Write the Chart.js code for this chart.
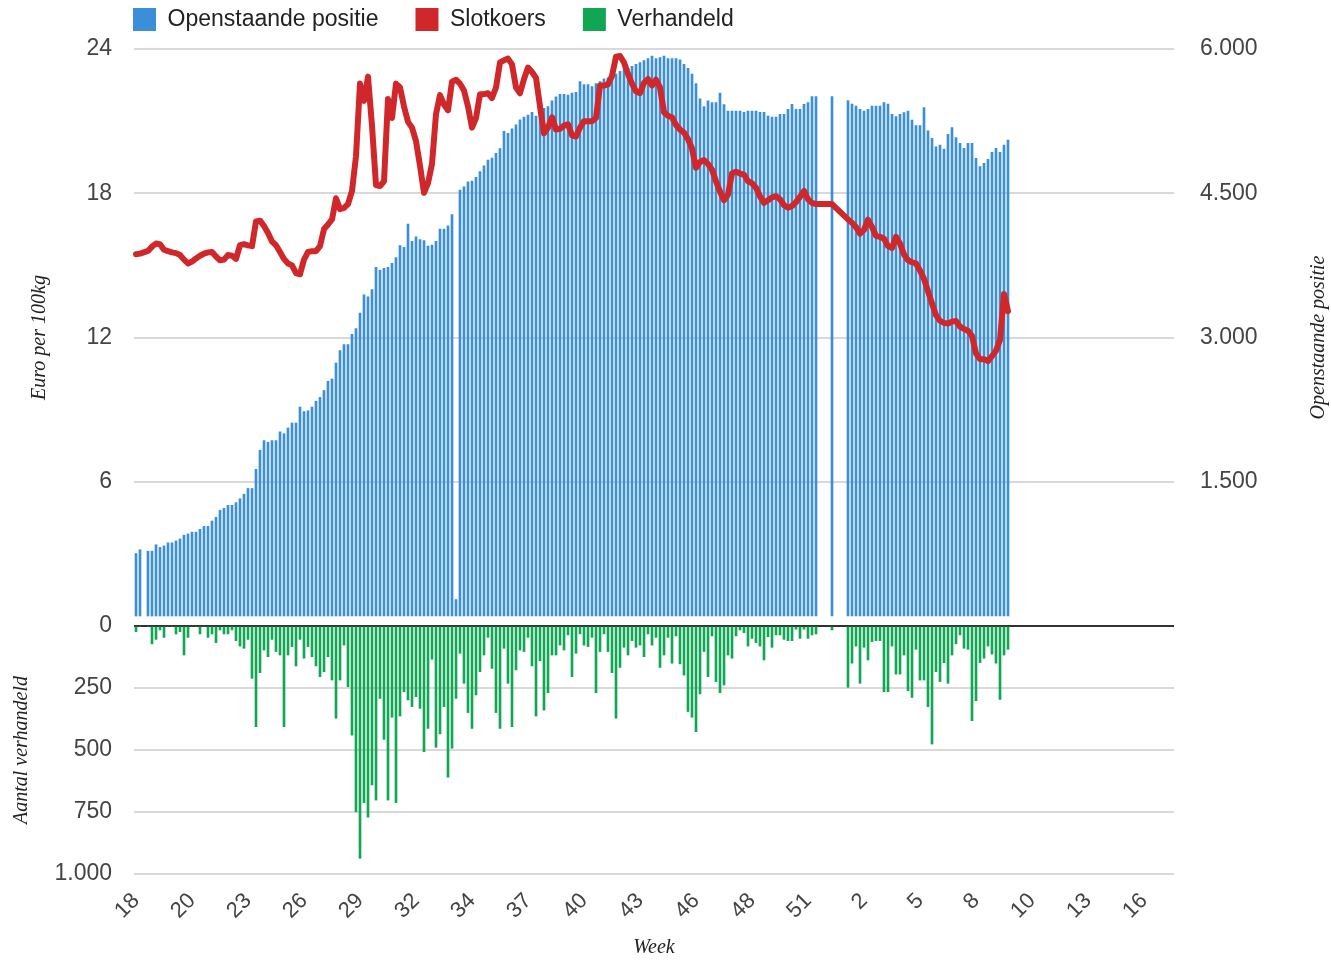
<!DOCTYPE html>
<html>
<head>
<meta charset="utf-8">
<script src="https://cdn.jsdelivr.net/npm/chart.js@4/dist/chart.umd.min.js"></script>
<style>
  html, body { margin: 0; padding: 0; background: #ffffff; }
  #wrap { width: 1331px; height: 960px; position: relative; }
</style>
</head>
<body>
<div id="wrap"><canvas id="c"></canvas></div>
<script>
// ---------- data ----------
const seriesNames = ['Openstaande positie', 'Slotkoers', 'Verhandeld'];
const axisTitles = { price: 'Euro per 100kg', volume: 'Aantal verhandeld', openInterest: 'Openstaande positie', x: 'Week' };
// week labels shown every 14 trading days (260 trading-day slots = one year)
const weekTicks = ['18','20','23','26','29','32','34','37','40','43','46','48','51','2','5','8','10','13','16'];
const TICK_EVERY = 14;
const SLOTS = 260;

// Openstaande positie (right axis), one value per trading day; null = no data
const openInterest = [
  754,793,null,778,778,845,817,833,865,865,
  885,905,944,957,976,976,1005,1036,1036,1092,
  1131,1203,1223,1255,1255,1283,1323,1371,1430,1430,
  1629,1828,1928,1911,1928,1928,2019,2000,2059,2111,
  2111,2277,2230,2238,2277,2338,2377,2449,2545,2569,
  2735,2863,2926,2926,3033,3094,3253,3444,3424,3499,
  3730,3699,3719,3730,3771,3830,3957,3937,4180,4000,
  4048,4017,4009,3950,3961,4000,4128,4128,4161,4279,
  276,4534,4566,4618,4626,4666,4725,4785,4845,4865,
  4916,4964,5143,5123,5171,5211,5263,5291,5314,5342,
  5303,5322,5382,5402,5462,5502,5529,5529,5521,5541,
  5549,5661,5629,5629,5609,5641,5661,5689,5701,5728,
  5740,5768,5800,5800,5820,5840,5860,5880,5900,5927,
  5900,5911,5927,5900,5900,5900,5888,5840,5800,5740,
  5641,5482,5402,5462,5442,5442,5541,5422,5354,5354,
  5354,5354,5342,5354,5354,5354,5342,5342,5303,5291,
  5291,5321,5321,5373,5425,5373,5373,5425,5442,5504,
  5504,null,null,null,5504,null,null,null,5463,5428,
  5407,5373,5355,5373,5407,5407,5407,5442,5428,5321,
  5296,5321,5338,5355,5262,5203,5203,5390,5148,5071,
  4984,5002,4960,5113,5182,5078,5019,4967,5019,5019,
  4863,4777,4811,4853,4926,4967,4926,5002,5054
];

// Slotkoers (left axis, euro per 100kg)
const closePrice = [
  15.46,15.49,null,15.6,15.78,15.91,15.88,15.65,15.59,15.54,
  15.51,15.43,15.24,15.08,15.16,15.29,15.4,15.49,15.54,15.56,
  15.37,15.21,15.24,15.43,15.4,15.27,15.84,15.88,15.83,15.8,
  16.83,16.86,16.64,16.35,15.99,15.84,15.56,15.27,15.08,15.0,
  14.68,14.63,15.24,15.56,15.59,15.59,15.8,16.51,16.7,16.91,
  17.79,17.34,17.39,17.55,18.1,19.54,22.56,21.84,22.85,20.81,
  18.34,18.3,18.5,21.92,21.13,22.56,22.4,21.61,20.97,20.73,
  20.17,19.14,18.02,18.42,19.22,21.29,22.08,21.69,21.45,22.64,
  22.72,22.56,22.27,21.61,20.73,21.13,22.12,22.12,22.16,21.96,
  22.4,23.44,23.53,23.6,23.36,22.4,22.16,22.75,23.23,23.04,
  22.8,21.61,20.49,20.73,21.16,20.65,20.68,20.81,20.87,20.41,
  20.36,20.73,21.0,21.0,21.0,21.13,22.48,22.48,22.53,22.88,
  23.68,23.71,23.44,22.96,22.56,22.24,22.16,22.59,22.75,22.48,
  22.72,22.4,21.37,21.22,21.16,20.84,20.65,20.52,20.25,19.86,
  19.06,19.3,19.38,19.22,18.98,18.5,18.07,17.71,17.95,18.82,
  18.9,18.82,18.77,18.5,18.42,18.23,17.87,17.6,17.71,17.83,
  17.88,17.75,17.5,17.4,17.47,17.63,17.85,18.1,17.75,17.6,
  17.55,null,null,null,17.55,null,null,null,16.91,16.77,
  16.59,16.32,16.48,16.9,16.6,16.23,16.19,16.11,15.8,15.72,
  16.19,15.91,15.45,15.21,15.13,15.08,14.79,14.44,13.93,13.41,
  12.93,12.69,12.61,12.58,12.66,12.69,12.45,12.36,12.28,12.06,
  11.34,11.1,11.1,11.02,11.23,11.45,11.9,13.81,13.09
];

// Verhandeld (lower panel, number of contracts)
const volume = [
  23,0,null,0,72,54,16,46,0,0,
  32,23,117,46,0,0,32,0,46,32,
  67,16,32,32,16,59,81,90,54,211,
  406,188,97,124,54,103,117,406,117,83,
  161,54,130,83,124,161,204,184,124,218,
  372,218,77,245,440,749,937,712,771,641,
  702,292,457,702,368,712,363,265,298,325,
  285,332,507,413,134,489,435,325,610,493,
  292,110,231,349,413,278,184,117,46,171,
  349,413,90,231,406,177,97,103,46,161,
  363,140,339,269,117,117,77,97,36,204,
  110,32,77,83,46,269,103,32,103,188,
  372,167,86,117,59,86,77,124,32,77,
  46,167,117,46,150,40,153,198,345,368,
  426,274,103,204,40,224,269,238,117,130,
  40,16,27,81,50,67,81,137,43,86,
  36,36,54,59,59,13,50,13,50,36,
  32,null,null,null,16,null,null,null,247,150,
  81,231,86,137,63,59,59,265,265,81,
  194,194,117,261,288,94,218,218,325,476,
  184,224,148,231,117,72,36,90,94,382,
  301,148,130,81,113,150,296,117,94
];

// ---------- styling ----------
const BLUE = '#3a8fd8';
const RED = '#d0282a';
const GREEN = '#10a653';
const GRID = '#d9d9d9';
const TEXT = '#444444';
const TITLE_COLOR = '#222222';
const TITLE_FONT = { family: "'Liberation Serif', 'DejaVu Serif', serif", style: 'italic', size: 20 };

Chart.defaults.font.family = "'Liberation Sans', Arial, sans-serif";
Chart.defaults.color = TEXT;

const fmt = v => String(v).replace(/\B(?=(\d{3})+(?!\d))/g, '.');
const slotLabels = Array.from({ length: SLOTS }, (_, i) =>
  (i % TICK_EVERY === 0 && weekTicks[i / TICK_EVERY] !== undefined) ? weekTicks[i / TICK_EVERY] : '');

const LEFT_W = 134, RIGHT_W = 157, X_H = 86;
const LEGEND_X = 133, LEGEND_Y = 8;

const legendPlace = {
  id: 'legendPlace',
  afterLayout(chart) {
    const lg = chart.legend;
    if (!lg) return;
    const p = lg.options.labels.padding;
    lg.left = LEGEND_X - p;
    lg.top = LEGEND_Y - p;
  }
};

const rightTitle = {
  id: 'rightTitle',
  afterDraw(chart) {
    const s = chart.scales.yOI;
    const ctx = chart.ctx;
    ctx.save();
    ctx.font = 'italic 20px "Liberation Serif", "DejaVu Serif", serif';
    ctx.fillStyle = TITLE_COLOR;
    ctx.textAlign = 'center';
    ctx.textBaseline = 'middle';
    ctx.translate(s.right - 12, (s.top + s.bottom) / 2);
    ctx.rotate(-Math.PI / 2);
    ctx.fillText(axisTitles.openInterest, 0, 0);
    ctx.restore();
  }
};

new Chart(document.getElementById('c'), {
  type: 'bar',
  data: {
    labels: slotLabels,
    datasets: [
      {
        type: 'bar', label: seriesNames[0], data: openInterest, yAxisID: 'yOI',
        backgroundColor: BLUE, borderWidth: 0, barThickness: 2, grouped: false, base: 104, order: 2
      },
      {
        type: 'line', label: seriesNames[1], data: closePrice, yAxisID: 'yPrice',
        borderColor: RED, backgroundColor: RED, borderWidth: 6, pointRadius: 0,
        tension: 0, spanGaps: true, borderJoinStyle: 'round', borderCapStyle: 'round', order: 0
      },
      {
        type: 'bar', label: seriesNames[2], data: volume, yAxisID: 'yVol',
        backgroundColor: GREEN, borderWidth: 0, barThickness: 2, grouped: false, order: 1
      }
    ]
  },
  options: {
    responsive: true,
    maintainAspectRatio: false,
    animation: false,
    events: [],
    layout: { padding: { top: 10, left: 0, right: 0, bottom: 0 } },
    plugins: {
      tooltip: { enabled: false },
      legend: {
        position: 'top', align: 'start', maxHeight: 39,
        labels: {
          boxWidth: 23, boxHeight: 23, padding: 37, color: '#222222',
          font: { size: 23 },
          sort: (a, b) => a.datasetIndex - b.datasetIndex,
          generateLabels(chart) {
            return Chart.defaults.plugins.legend.labels.generateLabels(chart).map(it => {
              it.lineWidth = 0;
              it.strokeStyle = 'rgba(0,0,0,0)';
              return it;
            });
          }
        }
      }
    },
    scales: {
      x: {
        type: 'category',
        offset: true,
        grid: { display: false, drawTicks: false },
        border: { display: false },
        ticks: { autoSkip: false, minRotation: 45, maxRotation: 45, padding: 14, font: { size: 22 }, color: TEXT },
        title: { display: true, text: axisTitles.x, font: TITLE_FONT, color: TITLE_COLOR, padding: { top: 0, bottom: 0 } },
        afterFit: s => { s.height = X_H; }
      },
      yVol: {
        type: 'linear', position: 'left', stack: 'left', stackWeight: 248,
        reverse: true, min: 0, max: 1000,
        ticks: { stepSize: 250, padding: 22, font: { size: 23 }, color: TEXT, callback: v => fmt(v) },
        grid: {
          drawTicks: false,
          color: c => (c.tick && c.tick.value === 0) ? '#333333' : GRID,
          lineWidth: 2
        },
        border: { display: false },
        title: { display: true, text: axisTitles.volume, font: TITLE_FONT, color: TITLE_COLOR, padding: { top: 10, bottom: 0 } },
        afterFit: s => { s.width = LEFT_W; }
      },
      yPrice: {
        type: 'linear', position: 'left', stack: 'left', stackWeight: 577,
        min: 0, max: 24,
        ticks: { stepSize: 6, padding: 22, font: { size: 23 }, color: TEXT, callback: v => (v === 0 ? '' : fmt(v)) },
        grid: {
          drawTicks: false,
          color: c => (c.tick && c.tick.value === 0) ? 'rgba(0,0,0,0)' : GRID,
          lineWidth: 2
        },
        border: { display: false },
        title: { display: true, text: axisTitles.price, font: TITLE_FONT, color: TITLE_COLOR, padding: { top: 28, bottom: 0 } },
        afterFit: s => { s.width = LEFT_W; }
      },
      yOI: {
        type: 'linear', position: 'right', stack: 'right', stackWeight: 577,
        min: 0, max: 6000,
        ticks: { stepSize: 1500, padding: 26, font: { size: 23 }, color: TEXT, callback: v => (v === 0 ? '' : fmt(v)) },
        grid: { display: false, drawTicks: false },
        border: { display: false },
        afterFit: s => { s.width = RIGHT_W; }
      },
      yFill: {
        type: 'linear', position: 'right', stack: 'right', stackWeight: 248,
        ticks: { display: false },
        grid: { display: false, drawTicks: false },
        border: { display: false },
        afterFit: s => { s.width = RIGHT_W; }
      }
    }
  },
  plugins: [legendPlace, rightTitle]
});
</script>
</body>
</html>
